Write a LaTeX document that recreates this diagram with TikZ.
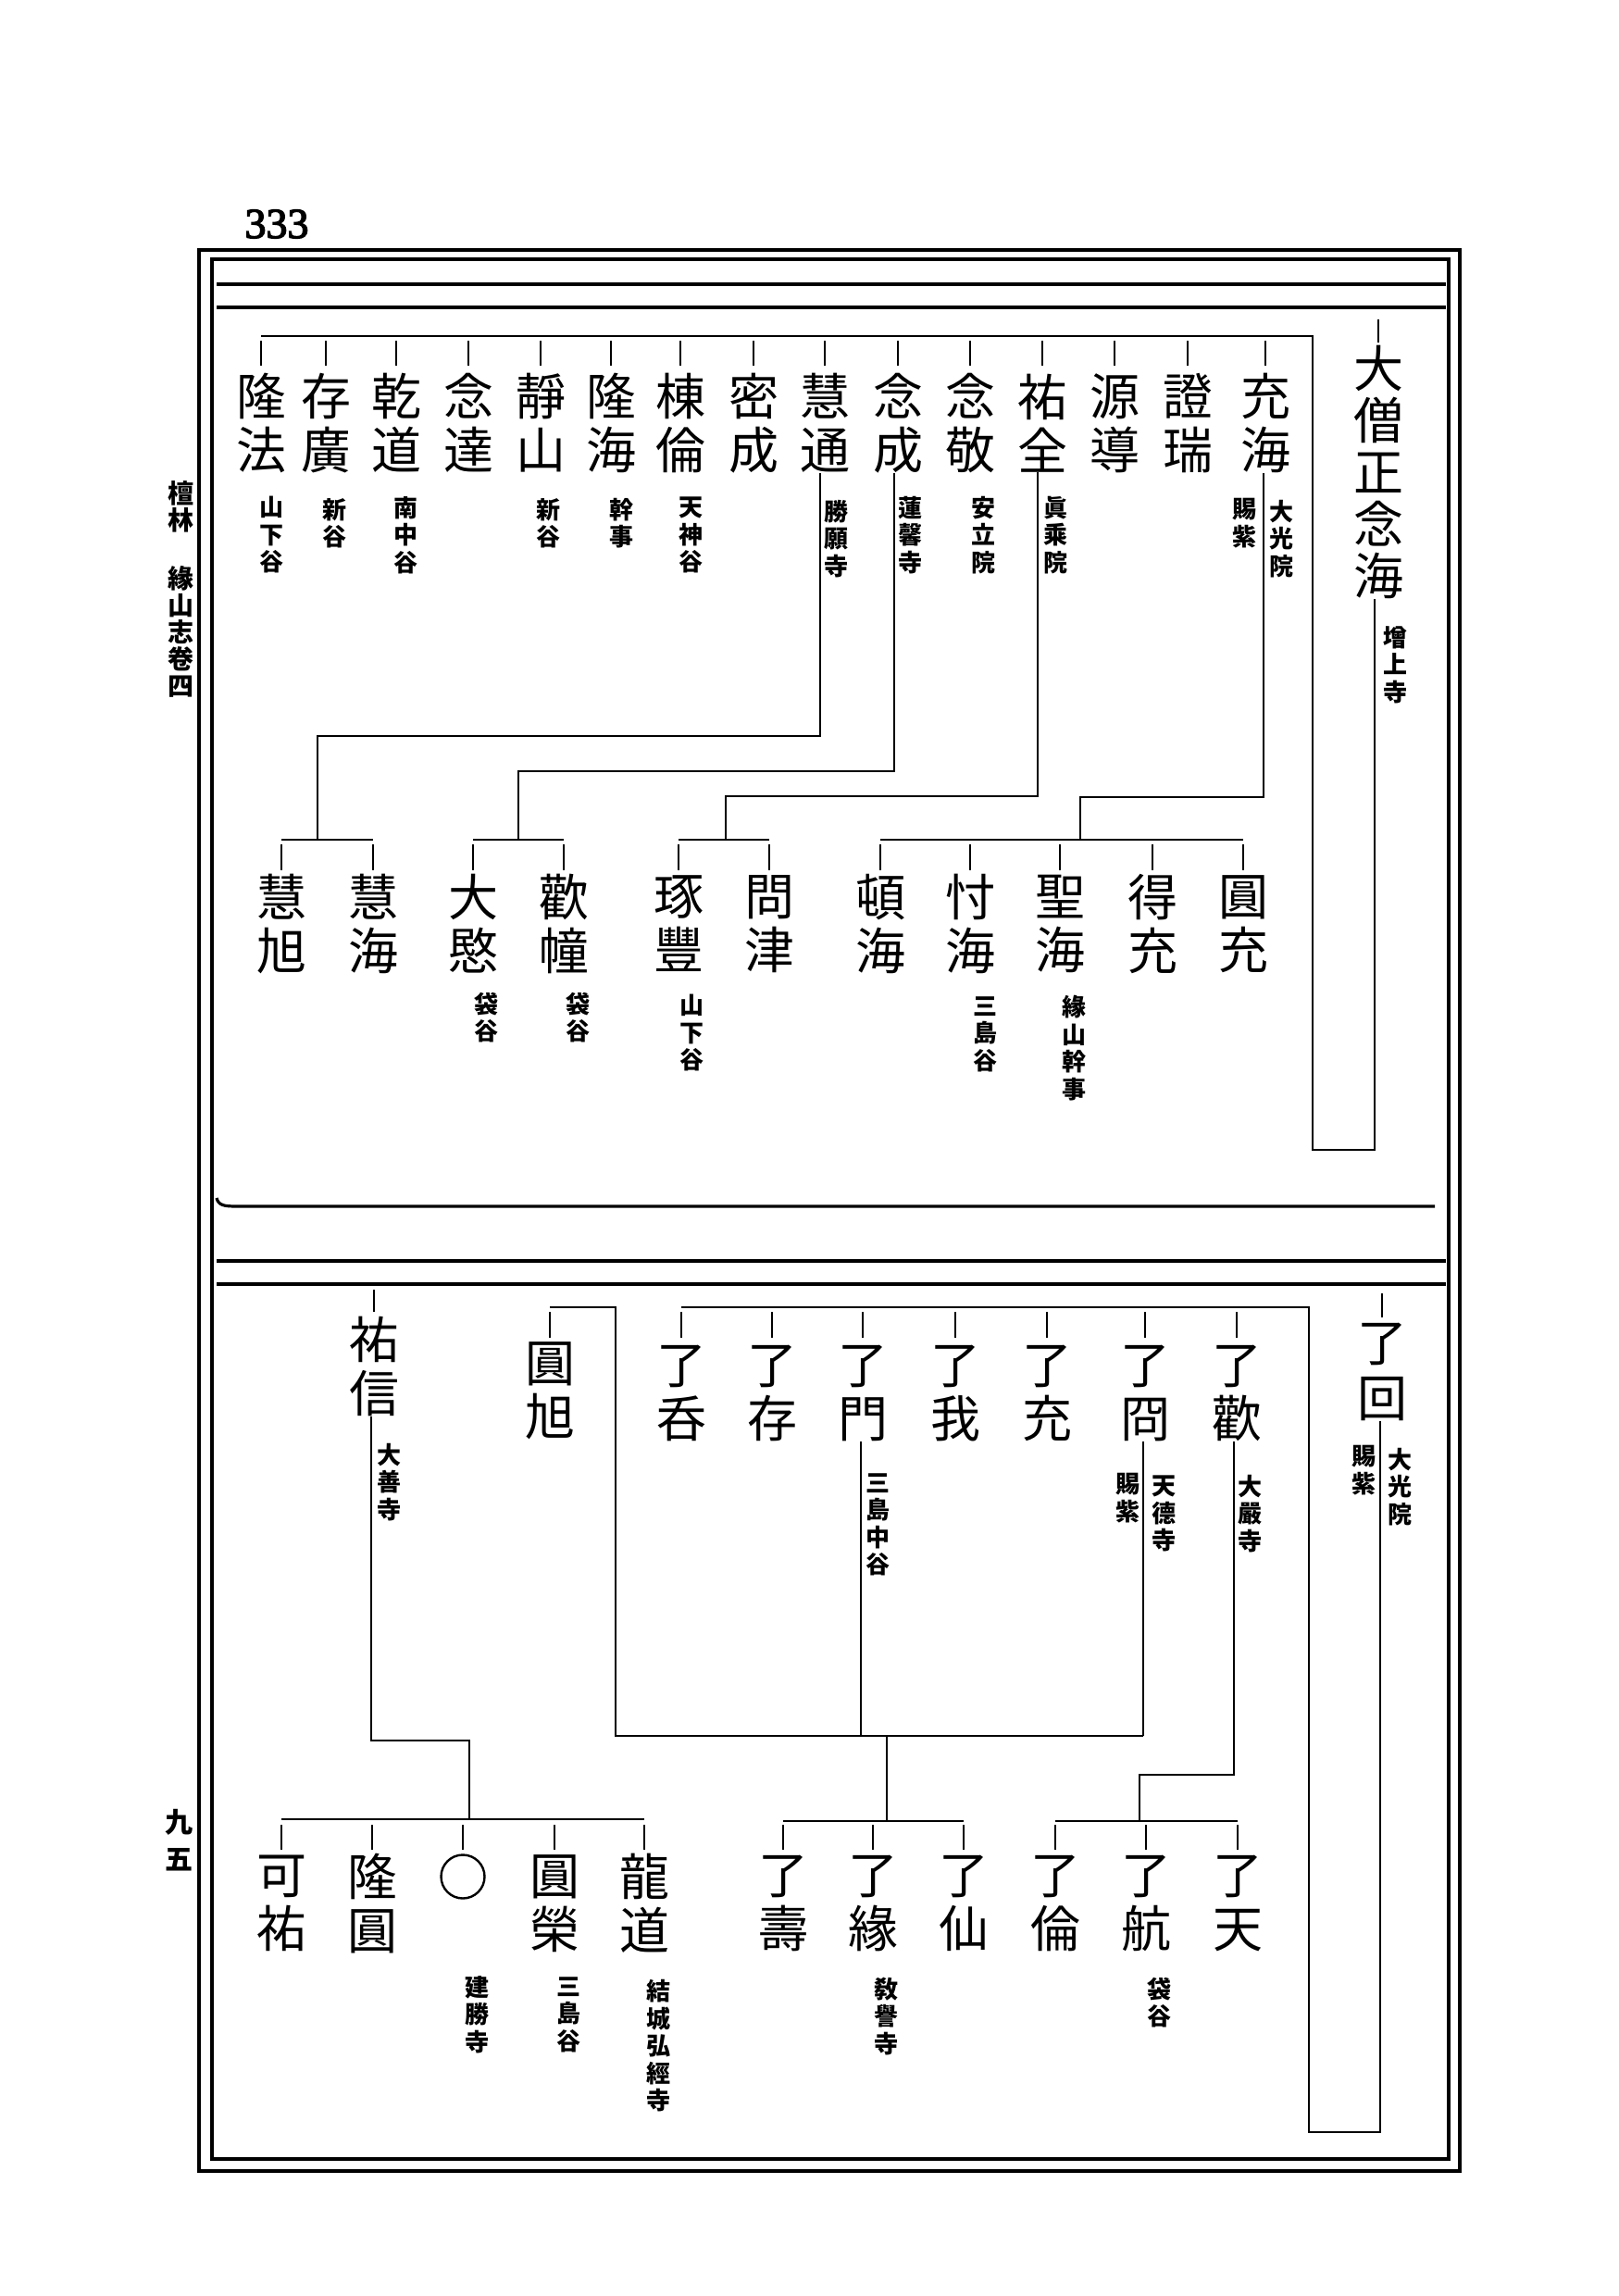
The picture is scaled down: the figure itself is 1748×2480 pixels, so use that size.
\documentclass[tikz,border=0pt]{standalone}
\usepackage{fontspec}
\newfontfamily\cjk{Noto Sans CJK JP}
\newfontfamily\pgnum{Liberation Serif}[FakeBold=3]
\usetikzlibrary{shapes.geometric}
\begin{document}
\begin{tikzpicture}[x=1pt,y=-1pt]
\tikzset{
 nm/.style={font=\cjk\fontsize{54}{58}\selectfont, align=center, inner sep=0pt},
 rootnm/.style={font=\cjk\fontsize{54}{56}\selectfont, align=center, inner sep=0pt},
 ann/.style={font=\cjk\bfseries\fontsize{26}{29.5}\selectfont, align=center, inner sep=0pt},
 side/.style={font=\cjk\bfseries\fontsize{28}{29}\selectfont, align=center, inner sep=0pt},
 ln/.style={line width=2.6pt},
 rulel/.style={line width=3.2pt},
 framel/.style={line width=4pt},
}
\useasboundingbox (0,0) rectangle (1748,2480);
\fill[white] (0,0) rectangle (1748,2480);

% ---------- frame ----------
\draw[framel] (215,270) rectangle (1577,2345);
\draw[rulel] (229,280) rectangle (1565,2332);
\draw[rulel] (234,307) -- (1562,307);
\draw[rulel] (234,332) -- (1562,332);
\draw[rulel] (234,1294) .. controls (236,1302) and (242,1303) .. (256,1303) -- (1550,1303);
\draw[rulel] (234,1362) -- (1562,1362);
\draw[rulel] (234,1387) -- (1562,1387);

% ---------- page texts ----------
\node[font=\pgnum\fontsize{46}{46}\selectfont, inner sep=0pt] (pg) at (299,242) {333};
\node[side] (s1) at (195,547) {檀\\林};
\node[side] (s2) at (195,682) {緣\\山\\志\\卷\\四};
\node[side, font=\cjk\bfseries\fontsize{30}{40}\selectfont] (s3) at (193,1988) {九\\五};

% ---------- upper section ----------
\node[rootnm] (r1) at (1489,510) {大\\僧\\正\\念\\海};
\node[ann] (r1a) at (1507,718) {增\\上\\寺};

\node[nm] (u1) at (1367,457) {充\\海};
\node[nm] (u2) at (1283,457) {證\\瑞};
\node[nm] (u3) at (1204,457) {源\\導};
\node[nm] (u4) at (1126,457) {祐\\全};
\node[nm] (u5) at (1048,457) {念\\敬};
\node[nm] (u6) at (970,457) {念\\成};
\node[nm] (u7) at (891,457) {慧\\通};
\node[nm] (u8) at (814,457) {密\\成};
\node[nm] (u9) at (735,457) {棟\\倫};
\node[nm] (u10) at (660,457) {隆\\海};
\node[nm] (u11) at (584,457) {靜\\山};
\node[nm] (u12) at (506,457) {念\\達};
\node[nm] (u13) at (428,457) {乾\\道};
\node[nm] (u14) at (352,457) {存\\廣};
\node[nm] (u15) at (282,457) {隆\\法};

\node[ann] (u1a) at (1384,582) {大\\光\\院};
\node[ann] (u1b) at (1344,565) {賜\\紫};
\node[ann] (u4a) at (1140,578) {眞\\乘\\院};
\node[ann] (u5a) at (1062,578) {安\\立\\院};
\node[ann] (u6a) at (983,578) {蓮\\馨\\寺};
\node[ann] (u7a) at (903,582) {勝\\願\\寺};
\node[ann] (u9a) at (746,578) {天\\神\\谷};
\node[ann] (u10a) at (671,565) {幹\\事};
\node[ann] (u11a) at (592,565) {新\\谷};
\node[ann] (u13a) at (438,578) {南\\中\\谷};
\node[ann] (u14a) at (361,565) {新\\谷};
\node[ann] (u15a) at (293,578) {山\\下\\谷};

% root tick and bracket
\draw[ln] (r1.north |- 0,345) -- (r1.north |- 0,370);
\draw[ln] (u15.north |- 0,363) -- (1418,363) -- (1418,1242) -- (1485,1242) -- (r1.south -| 1485,0);
\foreach \n in {u1,u2,u3,u4,u5,u6,u7,u8,u9,u10,u11,u12,u13,u14,u15}
  {\draw[ln] (\n.north |- 0,368) -- (\n.north |- 0,395);}

% grandchildren upper
\node[nm] (g1) at (304,998) {慧\\旭};
\node[nm] (g2) at (403,998) {慧\\海};
\node[nm] (g3) at (511,998) {大\\愍};
\node[nm] (g4) at (609,998) {歡\\幢};
\node[nm] (g5) at (733,998) {琢\\豐};
\node[nm] (g6) at (831,998) {問\\津};
\node[nm] (g7) at (951,998) {頓\\海};
\node[nm] (g8) at (1048,998) {忖\\海};
\node[nm] (g9) at (1145,998) {聖\\海};
\node[nm] (g10) at (1245,998) {得\\充};
\node[nm] (g11) at (1343,998) {圓\\充};

\node[ann] (g3a) at (525,1099) {袋\\谷};
\node[ann] (g4a) at (624,1099) {袋\\谷};
\node[ann] (g5a) at (747,1116) {山\\下\\谷};
\node[ann] (g8a) at (1064,1117) {三\\島\\谷};
\node[ann] (g9a) at (1160,1132) {緣\\山\\幹\\事};

\foreach \n in {g1,g2,g3,g4,g5,g6,g7,g8,g9,g10,g11}
  {\draw[ln] (\n.north |- 0,912) -- (\n.north |- 0,940);}

% 慧通 -> 慧旭 慧海
\draw[ln] (u7.south -| 886,0) -- (886,795) -- (343,795) -- (343,907);
\draw[ln] (g1.north |- 0,907) -- (g2.north |- 0,907);
% 念成 -> 大愍 歡幢
\draw[ln] (u6.south -| 966,0) -- (966,833) -- (560,833) -- (560,907);
\draw[ln] (g3.north |- 0,907) -- (g4.north |- 0,907);
% 祐全 -> 琢豐 問津
\draw[ln] (u4.south -| 1121,0) -- (1121,860) -- (784,860) -- (784,907);
\draw[ln] (g5.north |- 0,907) -- (g6.north |- 0,907);
% 充海 -> 頓海 ... 圓充
\draw[ln] (u1.south -| 1365,0) -- (1365,861) -- (1167,861) -- (1167,907);
\draw[ln] (g7.north |- 0,907) -- (g11.north |- 0,907);

% ---------- lower section ----------
\node[rootnm, font=\cjk\fontsize{54}{60}\selectfont] (r2) at (1493,1482) {了\\回};
\node[ann] (r2a) at (1512,1606) {大\\光\\院};
\node[ann] (r2b) at (1473,1588) {賜\\紫};

\node[nm] (y1) at (404,1476) {祐\\信};
\node[ann] (y1a) at (420,1601) {大\\善\\寺};
\node[nm] (e1) at (594,1502) {圓\\旭};

\node[nm] (l1) at (736,1505) {了\\呑};
\node[nm] (l2) at (834,1505) {了\\存};
\node[nm] (l3) at (932,1505) {了\\門};
\node[nm] (l4) at (1032,1505) {了\\我};
\node[nm] (l5) at (1131,1505) {了\\充};
\node[nm] (l6) at (1237,1505) {了\\冏};
\node[nm] (l7) at (1336,1505) {了\\歡};

\node[ann] (l3a) at (948,1647) {三\\島\\中\\谷};
\node[ann] (l6a) at (1257,1635) {天\\德\\寺};
\node[ann] (l6b) at (1218,1618) {賜\\紫};
\node[ann] (l7a) at (1350,1635) {大\\嚴\\寺};

\draw[ln] (r2.north |- 0,1397) -- (r2.north |- 0,1423);
\draw[ln] (y1.north |- 0,1393) -- (y1.north |- 0,1417);
\draw[ln] (l1.north |- 0,1412) -- (1414,1412) -- (1414,2303) -- (1491,2303) -- (r2.south -| 1491,0);
\foreach \n in {l1,l2,l3,l4,l5,l6,l7}
  {\draw[ln] (\n.north |- 0,1417) -- (\n.north |- 0,1445);}
\draw[ln] (e1.north |- 0,1417) -- (e1.north |- 0,1445);
\draw[ln] (e1.north |- 0,1412) -- (665,1412) -- (665,1875) -- (1235,1875);

% lower grandchildren
\node[nm] (k1) at (304,2056) {可\\祐};
\node[nm] (k2) at (402,2056) {隆\\圓};
\node[circle, draw, line width=2.4pt, minimum size=47pt, inner sep=0pt] (k3) at (500,2027) {};
\node[nm] (k4) at (599,2056) {圓\\榮};
\node[nm] (k5) at (696,2056) {龍\\道};
\node[nm] (k6) at (846,2056) {了\\壽};
\node[nm] (k7) at (943,2056) {了\\緣};
\node[nm] (k8) at (1041,2056) {了\\仙};
\node[nm] (k9) at (1140,2056) {了\\倫};
\node[nm] (k10) at (1238,2056) {了\\航};
\node[nm] (k11) at (1337,2056) {了\\天};

\node[ann] (k3a) at (515,2176) {建\\勝\\寺};
\node[ann] (k4a) at (614,2176) {三\\島\\谷};
\node[ann] (k5a) at (711,2210) {結\\城\\弘\\經\\寺};
\node[ann] (k7a) at (957,2178) {敎\\譽\\寺};
\node[ann] (k10a) at (1252,2163) {袋\\谷};

\foreach \n in {k1,k2,k3,k4,k5,k6,k7,k8,k9,k10,k11}
  {\draw[ln] (\n.north |- 0,1971) -- (\n.north |- 0,1998);}

% 祐信 -> 可祐 ... 龍道
\draw[ln] (y1.south -| 401,0) -- (401,1880) -- (507,1880) -- (507,1965);
\draw[ln] (k1.north |- 0,1965) -- (k5.north |- 0,1965);
% 圓旭 / 了門 / 了冏 -> 了壽 了緣 了仙
\draw[ln] (l3.south -| 930,0) -- (930,1875);
\draw[ln] (l6.south -| 1235,0) -- (1235,1875);
\draw[ln] (958,1875) -- (958,1967);
\draw[ln] (k6.north |- 0,1967) -- (k8.north |- 0,1967);
% 了歡 -> 了倫 了航 了天
\draw[ln] (l7.south -| 1333,0) -- (1333,1917) -- (1231,1917) -- (1231,1967);
\draw[ln] (k9.north |- 0,1967) -- (k11.north |- 0,1967);
\end{tikzpicture}
\end{document}
